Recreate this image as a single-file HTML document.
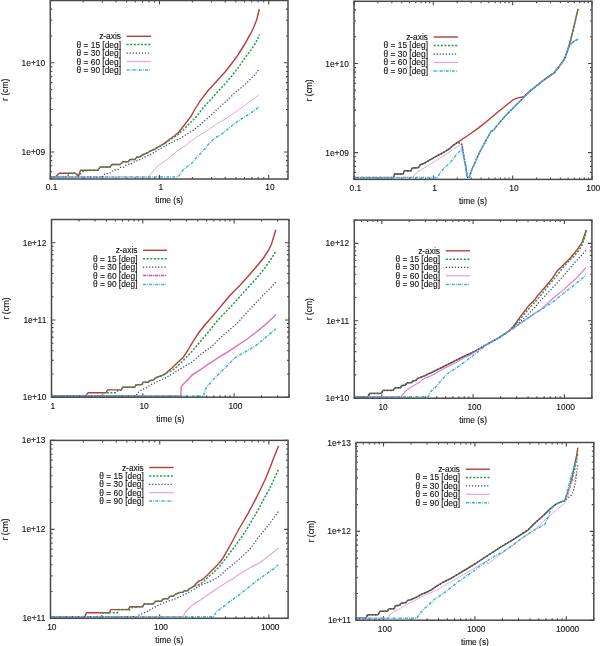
<!DOCTYPE html>
<html><head><meta charset="utf-8"><style>
html,body{margin:0;padding:0;background:#fff;}
body{width:600px;height:646px;overflow:hidden;}
svg{display:block;filter:blur(0.3px);}
text{font-family:"Liberation Sans",sans-serif;font-size:8.4px;fill:#111;stroke:#111;stroke-width:0.12px;}
</style></head><body>
<svg width="600" height="646" viewBox="0 0 600 646">
<rect width="600" height="646" fill="#fff"/>
<path d="M50.3 179v-4.0M50.3 0.5v4.0M83.17 179v-2.0M83.17 0.5v2.0M102.4 179v-2.0M102.4 0.5v2.0M116.04 179v-2.0M116.04 0.5v2.0M126.63 179v-2.0M126.63 0.5v2.0M135.27 179v-2.0M135.27 0.5v2.0M142.58 179v-2.0M142.58 0.5v2.0M148.92 179v-2.0M148.92 0.5v2.0M154.5 179v-2.0M154.5 0.5v2.0M159.5 179v-4.0M159.5 0.5v4.0M192.37 179v-2.0M192.37 0.5v2.0M211.6 179v-2.0M211.6 0.5v2.0M225.24 179v-2.0M225.24 0.5v2.0M235.83 179v-2.0M235.83 0.5v2.0M244.47 179v-2.0M244.47 0.5v2.0M251.78 179v-2.0M251.78 0.5v2.0M258.12 179v-2.0M258.12 0.5v2.0M263.7 179v-2.0M263.7 0.5v2.0M268.7 179v-4.0M268.7 0.5v4.0M50.3 178.85h2.0M288 178.85h-2.0M50.3 171.79h2.0M288 171.79h-2.0M50.3 165.82h2.0M288 165.82h-2.0M50.3 160.64h2.0M288 160.64h-2.0M50.3 156.08h2.0M288 156.08h-2.0M50.3 152h4.0M288 152h-4.0M50.3 125.15h2.0M288 125.15h-2.0M50.3 109.44h2.0M288 109.44h-2.0M50.3 98.3h2.0M288 98.3h-2.0M50.3 89.65h2.0M288 89.65h-2.0M50.3 82.59h2.0M288 82.59h-2.0M50.3 76.62h2.0M288 76.62h-2.0M50.3 71.44h2.0M288 71.44h-2.0M50.3 66.88h2.0M288 66.88h-2.0M50.3 62.8h4.0M288 62.8h-4.0M50.3 35.95h2.0M288 35.95h-2.0M50.3 20.24h2.0M288 20.24h-2.0M50.3 9.1h2.0M288 9.1h-2.0M50.3 0.45h2.0M288 0.45h-2.0" stroke="#4a4a4a" stroke-width="1.1" fill="none"/>
<path d="M50.3,177 55.5,177 59,173.3 75.5,173.3 78.5,176.5 80.5,170.3 98,170.3 100,167 110,167 112,164.5 120,164.5 123,161.8 128,161.8 130,159.5 135,159.5 137,157 140,157 142,155 145,154 148,152.5 150,151.2 154.3,149.5 158.7,146.8 164.1,143.6 169.5,139.3 174.9,135.5 178.7,132.2 182.5,127.3 186.8,121.9 191.2,116 194.4,110 200,101.1 207.7,91 215.5,82.5 223.2,74 225,72 229.7,66 234.3,60 238,54.8 242,48.5 245.5,42.8 248.9,36.7 251.5,32 253.8,27 256.6,20 258.4,13 259.3,9" fill="none" stroke="#b83c3c" stroke-width="1.4" stroke-linejoin="round"/>
<path d="M50.3,177 67.5,177 69,173.3 75.5,173.3 78.5,175 80,174 84,170.5 98,170.3 100,167 110,167 112,164.5 120,164.5 123,161.8 128,161.8 130,159.5 135,159.5 137,157 140,157 142,155 145,154 148,152.5 150,151.2 160.8,145.7 166.3,142.5 171.7,138.7 178.2,134.4 183.6,129.5 189,124.1 195.5,117.6 200,112 203.3,107.5 210,100.3 214.7,95 225,84 231.7,76 238.3,67.5 245.4,57.2 251,49.9 255.9,42.3 259,36 259.4,34.5" fill="none" stroke="#2a9a50" stroke-width="1.5" stroke-dasharray="2.1 1.5" stroke-linejoin="round"/>
<path d="M50.3,177 148.5,177 150,175 155,168.5 160,164.3 165,161 170,157 175,153 180,149 185,146 190,142 196,137.3 201.3,134.3 206.7,131 213.3,126.3 220,121.7 225,119.3 231.7,114.7 238.3,110 245,105.3 251.7,100 258.3,95.3 258.9,94.9" fill="none" stroke="#eaa6d8" stroke-width="1.0" stroke-linejoin="round"/>
<path d="M50.3,177 102,177 105,173.5 109.5,173.5 113,170.5 118,169.5 121,167 124,167 127,164.5 131,164 134,162 140,159.5 144,157.5 148,155.5 150,154.8 156.5,151 161.7,148 168.3,144.2 175,140.7 181.7,137.5 188.3,133.3 194.4,129.5 200,125 203.3,121.7 210,116.3 216.7,109.7 223.3,103.7 228.3,99.3 235,92.7 241.7,87.3 248.3,81.3 255,74.7 259.3,68.8" fill="none" stroke="#3c3c7c" stroke-width="1.25" stroke-dasharray="1.2 1.85" stroke-linejoin="round"/>
<path d="M50.3,177 178,177 183,170 188,166 192,163 196,158 200,154 204.2,149.5 209.5,143 215.5,137.5 222,134 228.3,128.7 235,123.3 241.7,118.7 248.3,114.7 255,110 259.3,106.7" fill="none" stroke="#40b0d8" stroke-width="1.5" stroke-dasharray="3 1.1 0.8 1.2" stroke-linejoin="round"/>
<rect x="50.3" y="0.5" width="237.7" height="178.5" fill="none" stroke="#4a4a4a" stroke-width="1.5"/>
<text x="51.6" y="190.3" text-anchor="middle">0.1</text>
<text x="160.8" y="190.3" text-anchor="middle">1</text>
<text x="270" y="190.3" text-anchor="middle">10</text>
<text x="45.1" y="155" text-anchor="end">1e+09</text>
<text x="45.1" y="65.8" text-anchor="end">1e+10</text>
<text x="169.15" y="203.3" text-anchor="middle">time (s)</text>
<text transform="translate(8.1 89.75) rotate(-90)" text-anchor="middle">r (cm)</text>
<text x="121" y="39.3" text-anchor="end">z-axis</text>
<path d="M126.6 36.3H151" fill="none" stroke="#b83c3c" stroke-width="1.4"/>
<text x="121" y="47.6" text-anchor="end">θ = 15 [deg]</text>
<path d="M126.6 44.6H151" fill="none" stroke="#2a9a50" stroke-width="1.5" stroke-dasharray="2.1 1.5"/>
<text x="121" y="56" text-anchor="end">θ = 30 [deg]</text>
<path d="M126.6 53H151" fill="none" stroke="#3c3c7c" stroke-width="1.25" stroke-dasharray="1.2 1.85"/>
<text x="121" y="64.5" text-anchor="end">θ = 60 [deg]</text>
<path d="M126.6 61.5H151" fill="none" stroke="#eaa6d8" stroke-width="1.3"/>
<text x="121" y="73" text-anchor="end">θ = 90 [deg]</text>
<path d="M126.6 70H151" fill="none" stroke="#40b0d8" stroke-width="1.5" stroke-dasharray="3 1.1 0.8 1.2"/>
<path d="M354 179.4v-4.0M354 1.3v4.0M377.88 179.4v-2.0M377.88 1.3v2.0M391.85 179.4v-2.0M391.85 1.3v2.0M401.76 179.4v-2.0M401.76 1.3v2.0M409.45 179.4v-2.0M409.45 1.3v2.0M415.73 179.4v-2.0M415.73 1.3v2.0M421.04 179.4v-2.0M421.04 1.3v2.0M425.64 179.4v-2.0M425.64 1.3v2.0M429.7 179.4v-2.0M429.7 1.3v2.0M433.33 179.4v-4.0M433.33 1.3v4.0M457.21 179.4v-2.0M457.21 1.3v2.0M471.18 179.4v-2.0M471.18 1.3v2.0M481.09 179.4v-2.0M481.09 1.3v2.0M488.78 179.4v-2.0M488.78 1.3v2.0M495.06 179.4v-2.0M495.06 1.3v2.0M500.37 179.4v-2.0M500.37 1.3v2.0M504.97 179.4v-2.0M504.97 1.3v2.0M509.03 179.4v-2.0M509.03 1.3v2.0M512.66 179.4v-4.0M512.66 1.3v4.0M536.54 179.4v-2.0M536.54 1.3v2.0M550.51 179.4v-2.0M550.51 1.3v2.0M560.42 179.4v-2.0M560.42 1.3v2.0M568.11 179.4v-2.0M568.11 1.3v2.0M574.39 179.4v-2.0M574.39 1.3v2.0M579.7 179.4v-2.0M579.7 1.3v2.0M584.3 179.4v-2.0M584.3 1.3v2.0M588.36 179.4v-2.0M588.36 1.3v2.0M591.99 179.4v-4.0M591.99 1.3v4.0M354 179.42h2.0M592 179.42h-2.0M354 172.37h2.0M592 172.37h-2.0M354 166.4h2.0M592 166.4h-2.0M354 161.23h2.0M592 161.23h-2.0M354 156.68h2.0M592 156.68h-2.0M354 152.6h4.0M592 152.6h-4.0M354 125.78h2.0M592 125.78h-2.0M354 110.09h2.0M592 110.09h-2.0M354 98.96h2.0M592 98.96h-2.0M354 90.32h2.0M592 90.32h-2.0M354 83.27h2.0M592 83.27h-2.0M354 77.3h2.0M592 77.3h-2.0M354 72.13h2.0M592 72.13h-2.0M354 67.58h2.0M592 67.58h-2.0M354 63.5h4.0M592 63.5h-4.0M354 36.68h2.0M592 36.68h-2.0M354 20.99h2.0M592 20.99h-2.0M354 9.86h2.0M592 9.86h-2.0M354 1.22h2.0M592 1.22h-2.0" stroke="#4a4a4a" stroke-width="1.1" fill="none"/>
<path d="M354,177.6 393.5,177.6 394.5,174 403,174 404.5,170.8 411,170.8 412,168.3 418.7,167.5 420,165 424.7,163 428.7,160.7 433.3,158 437.3,155.7 441.3,153.7 445.3,151.3 450,148.3 453,145.5 457.9,142.2 459,141.4 467.1,136 477.9,128.4 488.8,119.8 495.8,113.7 501.7,109 507.5,104.3 513.3,99.7 518,97.9 523.8,96.8 530.8,90.3 536.7,85.7 542.5,81 548.3,76.9 554.2,72.8 559.8,65.7 564.2,59.4 567.4,51.1 570.2,41.8 573,30.6 575.8,18.6 578.1,8.8" fill="none" stroke="#b83c3c" stroke-width="1.4" stroke-linejoin="round"/>
<path d="M354,177.6 393.5,177.6 394.5,174 403,174 404.5,170.8 411,170.8 412,168.3 418.7,167.5 420,165 424.7,163 428.7,160.7 433.3,158 437.3,155.7 441.3,153.7 445.3,151.3 450,148.3 453,145.5 457.9,142.2 461.7,144.1 463.3,153.3 465.5,164.2 467.1,175 467.8,177.6 469.3,177.6 471.4,170.7 474.7,163.1 480.1,151.2 485.5,141.4 490.9,131.7 493.3,130.3 496.3,126.3 499.3,123 505.2,116 511,110.2 518,103.2 523.8,97.3 530.8,90.3 536.7,85.7 542.5,81 548.3,76.9 554.2,72.8 559.8,65.7 564.2,59.4 567.4,51.1 570.2,41.8 573,30.6 575.8,18.6 578.1,8.8" fill="none" stroke="#2a9a50" stroke-width="1.5" stroke-dasharray="2.1 1.5" stroke-linejoin="round"/>
<path d="M354,177.6 413,177.6 414.7,174.3 418,171.7 421.3,169.7 424.7,167.7 428,165.7 432,163 436.7,160.3 441.3,157 446,154.3 450,151.7 455,148 460.6,144.7 462.8,145.8 464.5,160 467.1,175 467.8,177.6 469.3,177.6 471.4,170.7 474.7,163.1 480.1,151.2 485.5,141.4 490.9,131.7 493.3,130.3 496.3,126.3 499.3,123 505.2,116 511,110.2 518,103.2 523.8,97.3 530.8,90.3 536.7,85.7 542.5,81 548.3,76.9 554.2,72.8 559.8,65.7 564.2,59.4 567.4,51.1 569.5,46 571.1,43.6 574.9,40.9 578.1,39" fill="none" stroke="#eaa6d8" stroke-width="1.0" stroke-linejoin="round"/>
<path d="M354,177.6 393.5,177.6 394.5,174 403,174 404.5,170.8 411,170.8 412,168.3 418.7,167.5 420,165 424.7,163 428.7,160.7 433.3,158 437.3,155.7 441.3,153.7 445.3,151.3 450,148.3 453,145.5 457.9,142.2 461.7,144.1 463.3,153.3 465.5,164.2 467.1,175 467.8,177.6 469.3,177.6 471.4,170.7 474.7,163.1 480.1,151.2 485.5,141.4 490.9,131.7 493.3,130.3 496.3,126.3 499.3,123 505.2,116 511,110.2 518,103.2 523.8,97.3 530.8,90.3 536.7,85.7 542.5,81 548.3,76.9 554.2,72.8 559.8,65.7 564.2,59.4 567.4,51.1 569.5,46 571.1,43.6 574.9,40.9 578.1,39" fill="none" stroke="#3c3c7c" stroke-width="1.25" stroke-dasharray="1.2 1.85" stroke-linejoin="round"/>
<path d="M354,177.6 437.5,177.6 440,173 444,168.3 450,163 456.3,154.8 461.5,149.2 462.4,151.5 464.9,164.2 466.5,175 467.6,177.6 469.3,177.6 471.4,170.7 474.7,163.1 480.1,151.2 485.5,141.4 490.9,131.7 493.3,130.3 496.3,126.3 499.3,123 505.2,116 511,110.2 518,103.2 523.8,97.3 530.8,90.3 536.7,85.7 542.5,81 548.3,76.9 554.2,72.8 559.8,65.7 564.2,59.4 567.4,51.1 569.5,46 571.1,43.6 574.9,40.9 578.1,39" fill="none" stroke="#40b0d8" stroke-width="1.5" stroke-dasharray="3 1.1 0.8 1.2" stroke-linejoin="round"/>
<rect x="354" y="1.3" width="238" height="178.1" fill="none" stroke="#4a4a4a" stroke-width="1.5"/>
<text x="355.3" y="190.7" text-anchor="middle">0.1</text>
<text x="434.63" y="190.7" text-anchor="middle">1</text>
<text x="513.96" y="190.7" text-anchor="middle">10</text>
<text x="593.29" y="190.7" text-anchor="middle">100</text>
<text x="348.8" y="155.6" text-anchor="end">1e+09</text>
<text x="348.8" y="66.5" text-anchor="end">1e+10</text>
<text x="473" y="203.7" text-anchor="middle">time (s)</text>
<text transform="translate(311.8 90.35) rotate(-90)" text-anchor="middle">r (cm)</text>
<text x="428" y="40" text-anchor="end">z-axis</text>
<path d="M433.6 37H458" fill="none" stroke="#b83c3c" stroke-width="1.4"/>
<text x="428" y="48.4" text-anchor="end">θ = 15 [deg]</text>
<path d="M433.6 45.4H458" fill="none" stroke="#2a9a50" stroke-width="1.5" stroke-dasharray="2.1 1.5"/>
<text x="428" y="57" text-anchor="end">θ = 30 [deg]</text>
<path d="M433.6 54H458" fill="none" stroke="#3c3c7c" stroke-width="1.25" stroke-dasharray="1.2 1.85"/>
<text x="428" y="65.4" text-anchor="end">θ = 60 [deg]</text>
<path d="M433.6 62.4H458" fill="none" stroke="#eaa6d8" stroke-width="1.3"/>
<text x="428" y="74" text-anchor="end">θ = 90 [deg]</text>
<path d="M433.6 71H458" fill="none" stroke="#40b0d8" stroke-width="1.5" stroke-dasharray="3 1.1 0.8 1.2"/>
<path d="M51.5 397.2v-4.0M51.5 219.5v4.0M78.98 397.2v-2.0M78.98 219.5v2.0M95.06 397.2v-2.0M95.06 219.5v2.0M106.47 397.2v-2.0M106.47 219.5v2.0M115.32 397.2v-2.0M115.32 219.5v2.0M122.55 397.2v-2.0M122.55 219.5v2.0M128.66 397.2v-2.0M128.66 219.5v2.0M133.95 397.2v-2.0M133.95 219.5v2.0M138.62 397.2v-2.0M138.62 219.5v2.0M142.8 397.2v-4.0M142.8 219.5v4.0M170.28 397.2v-2.0M170.28 219.5v2.0M186.36 397.2v-2.0M186.36 219.5v2.0M197.77 397.2v-2.0M197.77 219.5v2.0M206.62 397.2v-2.0M206.62 219.5v2.0M213.85 397.2v-2.0M213.85 219.5v2.0M219.96 397.2v-2.0M219.96 219.5v2.0M225.25 397.2v-2.0M225.25 219.5v2.0M229.92 397.2v-2.0M229.92 219.5v2.0M234.1 397.2v-4.0M234.1 219.5v4.0M261.58 397.2v-2.0M261.58 219.5v2.0M277.66 397.2v-2.0M277.66 219.5v2.0M289.07 397.2v-2.0M289.07 219.5v2.0M51.5 397.2h4.0M289 397.2h-4.0M51.5 373.95h2.0M289 373.95h-2.0M51.5 360.34h2.0M289 360.34h-2.0M51.5 350.69h2.0M289 350.69h-2.0M51.5 343.2h2.0M289 343.2h-2.0M51.5 337.09h2.0M289 337.09h-2.0M51.5 331.92h2.0M289 331.92h-2.0M51.5 327.44h2.0M289 327.44h-2.0M51.5 323.48h2.0M289 323.48h-2.0M51.5 319.95h4.0M289 319.95h-4.0M51.5 296.7h2.0M289 296.7h-2.0M51.5 283.09h2.0M289 283.09h-2.0M51.5 273.44h2.0M289 273.44h-2.0M51.5 265.95h2.0M289 265.95h-2.0M51.5 259.84h2.0M289 259.84h-2.0M51.5 254.67h2.0M289 254.67h-2.0M51.5 250.19h2.0M289 250.19h-2.0M51.5 246.23h2.0M289 246.23h-2.0M51.5 242.7h4.0M289 242.7h-4.0M51.5 219.45h2.0M289 219.45h-2.0" stroke="#4a4a4a" stroke-width="1.1" fill="none"/>
<path d="M51.5,395.9 85.8,395.9 88.2,392.7 106,392.7 107.4,389.9 121.4,389.9 122.6,387.2 134.8,387.2 136,384.8 142,384.5 143,382.3 148.3,382.3 149.3,380.7 153.7,380 155,378.3 157.7,377 161.7,375.7 165.7,373.7 168.3,371 171.7,368.3 175,365 179,361.2 183.5,356.9 187.7,350.5 193,341.6 198.3,333.3 205,324.7 211.7,317.3 218.3,309.4 225,301.2 230,295.3 240,285.2 247.7,276.7 255.5,267.8 263.2,258.5 268.6,250 271.5,244 273.5,237.5 275.8,229.8" fill="none" stroke="#b83c3c" stroke-width="1.4" stroke-linejoin="round"/>
<path d="M51.5,395.9 102.2,395.9 103.3,392.7 116.2,392.7 118.5,389.9 121.4,389.9 122.6,387.2 134.8,387.2 136,384.8 142,384.5 143,382.3 148.3,382.3 149.3,380.7 153.7,380 155,378.3 157.7,377 161.7,375.7 165.7,373.7 167,372.6 171.7,370.6 175,368.5 183.5,360.3 192,351.2 198.3,344 204.2,337 208.8,331.5 218,320 226.7,310.7 233.3,304 240,296.4 247.7,287.9 255.5,279.4 263.2,270.1 271,259.3 275.6,251.5" fill="none" stroke="#2a9a50" stroke-width="1.5" stroke-dasharray="2.1 1.5" stroke-linejoin="round"/>
<path d="M51.5,395.9 180.8,395.9 181.2,386.7 184.3,383.2 187.8,379.9 192,375 200.5,369.7 209,363.7 215,359.9 218.6,357.5 227.9,351.9 237.2,345.7 246.5,339.5 255.8,332.5 265.1,324.8 275.9,314.7" fill="none" stroke="#dc74bc" stroke-width="1.5" stroke-linejoin="round"/>
<path d="M51.5,395.9 136,395.9 137.7,393 141.7,389.7 146.3,387.7 151.7,384.3 157,381.7 161.7,379.7 167,377 171.7,374.3 175,372.2 183.5,367.1 192,362 200.5,354.4 209,348.4 212.4,345.9 218.6,339.3 227.9,331.3 237.2,323.2 246.5,313 256.3,302.3 263.2,295.3 270.2,288.3 275.8,282.1" fill="none" stroke="#3c3c7c" stroke-width="1.25" stroke-dasharray="1.2 1.85" stroke-linejoin="round"/>
<path d="M51.5,395.9 203.6,395.9 205.3,389.5 207.7,386 212.4,380.5 218.6,374.3 226.3,366.6 235.6,357.3 246.5,351.1 255.8,345.7 265.1,338 275.9,328.7" fill="none" stroke="#40b0d8" stroke-width="1.5" stroke-dasharray="3 1.1 0.8 1.2" stroke-linejoin="round"/>
<rect x="51.5" y="219.5" width="237.5" height="177.7" fill="none" stroke="#4a4a4a" stroke-width="1.5"/>
<text x="52.8" y="408.5" text-anchor="middle">1</text>
<text x="144.1" y="408.5" text-anchor="middle">10</text>
<text x="235.4" y="408.5" text-anchor="middle">100</text>
<text x="46.3" y="400.2" text-anchor="end">1e+10</text>
<text x="46.3" y="322.95" text-anchor="end">1e+11</text>
<text x="46.3" y="245.7" text-anchor="end">1e+12</text>
<text x="170.25" y="421.5" text-anchor="middle">time (s)</text>
<text transform="translate(9.3 308.35) rotate(-90)" text-anchor="middle">r (cm)</text>
<text x="137.5" y="253.3" text-anchor="end">z-axis</text>
<path d="M143 250.3H167" fill="none" stroke="#b83c3c" stroke-width="1.4"/>
<text x="137.5" y="261.7" text-anchor="end">θ = 15 [deg]</text>
<path d="M143 258.7H167" fill="none" stroke="#2a9a50" stroke-width="1.5" stroke-dasharray="2.1 1.5"/>
<text x="137.5" y="270.2" text-anchor="end">θ = 30 [deg]</text>
<path d="M143 267.2H167" fill="none" stroke="#3c3c7c" stroke-width="1.25" stroke-dasharray="1.2 1.85"/>
<text x="137.5" y="278.6" text-anchor="end">θ = 60 [deg]</text>
<path d="M143 275.6H167" fill="none" stroke="#c850b4" stroke-width="1.5" stroke-dasharray="3.5 0.7 1 0.7"/>
<text x="137.5" y="287.4" text-anchor="end">θ = 90 [deg]</text>
<path d="M143 284.4H167" fill="none" stroke="#40b0d8" stroke-width="1.5" stroke-dasharray="3 1.1 0.8 1.2"/>
<path d="M354.3 398.2v-2.0M354.3 220.1v2.0M361.53 398.2v-2.0M361.53 220.1v2.0M367.64 398.2v-2.0M367.64 220.1v2.0M372.94 398.2v-2.0M372.94 220.1v2.0M377.61 398.2v-2.0M377.61 220.1v2.0M381.78 398.2v-4.0M381.78 220.1v4.0M409.27 398.2v-2.0M409.27 220.1v2.0M425.35 398.2v-2.0M425.35 220.1v2.0M436.75 398.2v-2.0M436.75 220.1v2.0M445.6 398.2v-2.0M445.6 220.1v2.0M452.83 398.2v-2.0M452.83 220.1v2.0M458.94 398.2v-2.0M458.94 220.1v2.0M464.24 398.2v-2.0M464.24 220.1v2.0M468.91 398.2v-2.0M468.91 220.1v2.0M473.08 398.2v-4.0M473.08 220.1v4.0M500.57 398.2v-2.0M500.57 220.1v2.0M516.65 398.2v-2.0M516.65 220.1v2.0M528.05 398.2v-2.0M528.05 220.1v2.0M536.9 398.2v-2.0M536.9 220.1v2.0M544.13 398.2v-2.0M544.13 220.1v2.0M550.24 398.2v-2.0M550.24 220.1v2.0M555.54 398.2v-2.0M555.54 220.1v2.0M560.21 398.2v-2.0M560.21 220.1v2.0M564.38 398.2v-4.0M564.38 220.1v4.0M591.87 398.2v-2.0M591.87 220.1v2.0M354.3 398.2h4.0M591.9 398.2h-4.0M354.3 374.9h2.0M591.9 374.9h-2.0M354.3 361.27h2.0M591.9 361.27h-2.0M354.3 351.6h2.0M591.9 351.6h-2.0M354.3 344.1h2.0M591.9 344.1h-2.0M354.3 337.97h2.0M591.9 337.97h-2.0M354.3 332.79h2.0M591.9 332.79h-2.0M354.3 328.3h2.0M591.9 328.3h-2.0M354.3 324.34h2.0M591.9 324.34h-2.0M354.3 320.8h4.0M591.9 320.8h-4.0M354.3 297.5h2.0M591.9 297.5h-2.0M354.3 283.87h2.0M591.9 283.87h-2.0M354.3 274.2h2.0M591.9 274.2h-2.0M354.3 266.7h2.0M591.9 266.7h-2.0M354.3 260.57h2.0M591.9 260.57h-2.0M354.3 255.39h2.0M591.9 255.39h-2.0M354.3 250.9h2.0M591.9 250.9h-2.0M354.3 246.94h2.0M591.9 246.94h-2.0M354.3 243.4h4.0M591.9 243.4h-4.0M354.3 220.1h2.0M591.9 220.1h-2.0" stroke="#4a4a4a" stroke-width="1.1" fill="none"/>
<path d="M354.3,396.8 368,396.8 369.5,393.4 381.4,393.4 383,390.4 393.1,390.4 395,387.8 400.6,387.8 401.3,385.7 405.5,385 406.8,382.9 411.7,382.5 413.1,380.8 415.9,380.4 417.3,378.7 420.8,377.3 424.3,375.9 428.4,373.8 431.9,372.4 437,369.8 443.9,366.4 450.9,362.9 457.9,359.4 464.8,355.9 470,353.7 477,350.2 483.9,346 490.9,342.2 497.9,338.3 504.8,333.8 510,330.3 513,327 520.5,316.4 528.2,306.3 534.4,300.1 537.5,295.8 540,293.1 546.2,285.7 552.4,278.2 557.3,270.8 564.8,263.4 571,257.2 577.2,249.7 582.1,242.3 584.6,234.9 586.1,229.9" fill="none" stroke="#b83c3c" stroke-width="1.4" stroke-linejoin="round"/>
<path d="M354.3,396.8 368,396.8 369.5,393.4 381.4,393.4 383,390.4 393.1,390.4 395,387.8 400.6,387.8 401.3,385.7 405.5,385 406.8,382.9 411.7,382.5 413.1,380.8 415.9,380.4 417.3,378.7 420.8,377.3 424.3,375.9 428.4,373.8 431.9,372.4 437,369.8 443.9,366.4 450.9,362.9 457.9,359.4 464.8,355.9 470,353.7 477,350.2 483.9,346 490.9,342.2 497.9,338.3 504.8,333.8 510,330.3 513,327 520.5,318.7 528.2,309.4 536,300.9 541.4,294.7 548.3,285.8 556.7,275.8 565,265 575,255 579,250 582.1,244.8 585.2,236.1 586.5,229.9" fill="none" stroke="#2a9a50" stroke-width="1.5" stroke-dasharray="2.1 1.5" stroke-linejoin="round"/>
<path d="M354.3,396.8 401.8,396.8 402,395.4 405.5,391.2 408.9,388.4 412.4,386.4 415.9,384.3 419.4,382.2 422.9,379.4 426.4,377.3 430,376.3 437,372.6 443.9,368.4 450.9,365 457.9,361.5 464.8,357.3 470,355 477,350.6 483.9,346.3 490.9,342.2 497.9,338.3 504.8,333.8 510,330.3 512.7,328.8 520.5,323.3 528.2,317.9 536,312.5 539.8,310.5 546.7,304.2 551.2,300 558.6,293.8 564.8,288.6 571,283 577.2,277.2 582.1,272 585.8,267.7" fill="none" stroke="#e280cc" stroke-width="1.2" stroke-linejoin="round"/>
<path d="M354.3,396.8 368,396.8 369.5,393.4 381.4,393.4 383,390.4 393.1,390.4 395,387.8 400.6,387.8 401.3,385.7 405.5,385 406.8,382.9 411.7,382.5 413.1,380.8 415.9,380.4 417.3,378.7 420.8,377.3 424.3,375.9 428.4,373.8 431.9,372.4 437,369.8 443.9,366.4 450.9,362.9 457.9,359.4 464.8,355.9 470,353.7 477,350.2 483.9,346 490.9,342.2 497.9,338.3 504.8,333.8 510,330.3 513,327 520.5,321.5 528.2,314.1 536,306.3 540,301 548.3,292.5 556.7,283.3 565,274.2 573.3,264.2 581.7,255 586.5,249.7" fill="none" stroke="#3c3c7c" stroke-width="1.25" stroke-dasharray="1.2 1.85" stroke-linejoin="round"/>
<path d="M354.3,396.8 428.4,396.8 429.8,392.6 433.3,389.1 435,387.8 439.8,382 442.5,378.9 447.4,374 454.4,369.1 461.4,364.3 466,361 471.4,356.8 477,352.6 483.9,347 485.3,345.7 490.9,342.2 497.9,338.3 504.8,333.8 510,330.3 512.7,328.8 520.5,323.3 528.2,317.9 536,312.5 541.4,309.4 544.9,307.1 550,304 554.9,300.3 562,294.6 570,288.2 578,281.8 586.1,275.1" fill="none" stroke="#40b0d8" stroke-width="1.5" stroke-dasharray="3 1.1 0.8 1.2" stroke-linejoin="round"/>
<rect x="354.3" y="220.1" width="237.6" height="178.1" fill="none" stroke="#4a4a4a" stroke-width="1.5"/>
<text x="383.08" y="409.5" text-anchor="middle">10</text>
<text x="474.38" y="409.5" text-anchor="middle">100</text>
<text x="565.68" y="409.5" text-anchor="middle">1000</text>
<text x="349.1" y="401.2" text-anchor="end">1e+10</text>
<text x="349.1" y="323.8" text-anchor="end">1e+11</text>
<text x="349.1" y="246.4" text-anchor="end">1e+12</text>
<text x="473.1" y="422.5" text-anchor="middle">time (s)</text>
<text transform="translate(312.1 309.15) rotate(-90)" text-anchor="middle">r (cm)</text>
<text x="440" y="253.8" text-anchor="end">z-axis</text>
<path d="M445.8 250.8H470" fill="none" stroke="#b83c3c" stroke-width="1.4"/>
<text x="440" y="262.2" text-anchor="end">θ = 15 [deg]</text>
<path d="M445.8 259.2H470" fill="none" stroke="#2a9a50" stroke-width="1.5" stroke-dasharray="2.1 1.5"/>
<text x="440" y="270.4" text-anchor="end">θ = 30 [deg]</text>
<path d="M445.8 267.4H470" fill="none" stroke="#3c3c7c" stroke-width="1.25" stroke-dasharray="1.2 1.85"/>
<text x="440" y="278.8" text-anchor="end">θ = 60 [deg]</text>
<path d="M445.8 275.8H470" fill="none" stroke="#eaa6d8" stroke-width="1.3"/>
<text x="440" y="287.4" text-anchor="end">θ = 90 [deg]</text>
<path d="M445.8 284.4H470" fill="none" stroke="#40b0d8" stroke-width="1.5" stroke-dasharray="3 1.1 0.8 1.2"/>
<path d="M50.5 618.3v-4.0M50.5 440.4v4.0M83.37 618.3v-2.0M83.37 440.4v2.0M102.6 618.3v-2.0M102.6 440.4v2.0M116.24 618.3v-2.0M116.24 440.4v2.0M126.83 618.3v-2.0M126.83 440.4v2.0M135.47 618.3v-2.0M135.47 440.4v2.0M142.78 618.3v-2.0M142.78 440.4v2.0M149.12 618.3v-2.0M149.12 440.4v2.0M154.7 618.3v-2.0M154.7 440.4v2.0M159.7 618.3v-4.0M159.7 440.4v4.0M192.57 618.3v-2.0M192.57 440.4v2.0M211.8 618.3v-2.0M211.8 440.4v2.0M225.44 618.3v-2.0M225.44 440.4v2.0M236.03 618.3v-2.0M236.03 440.4v2.0M244.67 618.3v-2.0M244.67 440.4v2.0M251.98 618.3v-2.0M251.98 440.4v2.0M258.32 618.3v-2.0M258.32 440.4v2.0M263.9 618.3v-2.0M263.9 440.4v2.0M268.9 618.3v-4.0M268.9 440.4v4.0M50.5 618.3h4.0M288.1 618.3h-4.0M50.5 591.52h2.0M288.1 591.52h-2.0M50.5 575.86h2.0M288.1 575.86h-2.0M50.5 564.75h2.0M288.1 564.75h-2.0M50.5 556.13h2.0M288.1 556.13h-2.0M50.5 549.08h2.0M288.1 549.08h-2.0M50.5 543.13h2.0M288.1 543.13h-2.0M50.5 537.97h2.0M288.1 537.97h-2.0M50.5 533.42h2.0M288.1 533.42h-2.0M50.5 529.35h4.0M288.1 529.35h-4.0M50.5 502.57h2.0M288.1 502.57h-2.0M50.5 486.91h2.0M288.1 486.91h-2.0M50.5 475.8h2.0M288.1 475.8h-2.0M50.5 467.18h2.0M288.1 467.18h-2.0M50.5 460.13h2.0M288.1 460.13h-2.0M50.5 454.18h2.0M288.1 454.18h-2.0M50.5 449.02h2.0M288.1 449.02h-2.0M50.5 444.47h2.0M288.1 444.47h-2.0M50.5 440.4h4.0M288.1 440.4h-4.0" stroke="#4a4a4a" stroke-width="1.1" fill="none"/>
<path d="M50.5,616.7 84.7,616.7 86.5,612.7 109.5,612.7 110.8,609.6 128,609.6 130,606.7 142.7,606.7 144,604 153.3,604 155.3,601.3 161.3,601.3 163.3,598.7 168,598.7 170,596.3 173.3,596.3 176,594 180,592.4 182.8,592.4 184.2,590.7 187.7,590.7 189.1,588.9 191.1,587.9 193.9,586.1 196.7,583 199.5,580.6 200.9,580.6 204.4,577.8 207.9,574.6 210.7,571.5 213.4,569.1 216.9,565.6 220,562 223.1,557.9 226.2,552.4 230.1,545.5 233.9,538.5 238.6,529.5 247.7,514.1 255.5,499.3 260.4,489.5 265.5,478.7 269.3,469.4 273.2,459.3 276.3,451.6 278.6,445.8" fill="none" stroke="#b83c3c" stroke-width="1.4" stroke-linejoin="round"/>
<path d="M50.5,616.7 101.3,616.7 103,612.7 117.3,612.7 118.7,609.6 128,609.6 129.3,610 132,607.5 142.7,606.7 144,604 153.3,604 155.3,601.3 161.3,601.3 163.3,598.7 168,598.7 170,596.3 173.3,596.3 176,594 180,592.4 182.8,592.4 184.2,590.7 187.7,590.7 189.1,588.9 191.1,587.9 193.9,586.5 200.9,583.7 207.9,577.4 213.4,572.5 220,566 224.6,559.8 229.3,553.5 233.9,547.8 239.3,540.1 243.2,534.6 246.3,530 251.6,521 259.3,507.9 264.8,497 269.3,489.5 273.2,481 276.3,474.1 278.6,469" fill="none" stroke="#2a9a50" stroke-width="1.5" stroke-dasharray="2.1 1.5" stroke-linejoin="round"/>
<path d="M50.5,616.7 183.3,616.7 185.3,612 189.3,608 193.2,604.6 200.9,599.7 207.9,594.8 214.8,590 220,586.5 231.6,579.5 243.2,571.8 251,567.2 260,562.5 270,555 278.3,548.3" fill="none" stroke="#eaa6d8" stroke-width="1.3" stroke-linejoin="round"/>
<path d="M50.5,616.7 137,616.7 140,614.5 146.7,611.8 153.3,607.8 160,604.5 166.7,601.8 173.3,599.5 180,596.8 187,593.4 193.9,589.3 200.9,585.1 207.9,582.3 214.8,579.2 220,575.8 227.7,568.7 235.5,562.5 243.2,555.5 251,547.8 258.7,537 264.8,529.5 271,521.8 278.3,511.5" fill="none" stroke="#3c3c7c" stroke-width="1.25" stroke-dasharray="1.2 1.85" stroke-linejoin="round"/>
<path d="M50.5,616.7 213.3,616.7 216.7,611.7 223.3,606.7 231.7,600 240,594.2 248.3,587.5 256.7,580.8 265,575 273.3,569.2 278.3,564.7" fill="none" stroke="#40b0d8" stroke-width="1.5" stroke-dasharray="3 1.1 0.8 1.2" stroke-linejoin="round"/>
<rect x="50.5" y="440.4" width="237.6" height="177.9" fill="none" stroke="#4a4a4a" stroke-width="1.5"/>
<text x="51.8" y="629.6" text-anchor="middle">10</text>
<text x="161" y="629.6" text-anchor="middle">100</text>
<text x="270.2" y="629.6" text-anchor="middle">1000</text>
<text x="45.3" y="621.3" text-anchor="end">1e+11</text>
<text x="45.3" y="532.35" text-anchor="end">1e+12</text>
<text x="45.3" y="443.4" text-anchor="end">1e+13</text>
<text x="169.3" y="642.6" text-anchor="middle">time (s)</text>
<text transform="translate(8.3 529.35) rotate(-90)" text-anchor="middle">r (cm)</text>
<text x="143.8" y="470.5" text-anchor="end">z-axis</text>
<path d="M149.2 467.5H173.7" fill="none" stroke="#b83c3c" stroke-width="1.4"/>
<text x="143.8" y="479" text-anchor="end">θ = 15 [deg]</text>
<path d="M149.2 476H173.7" fill="none" stroke="#2a9a50" stroke-width="1.5" stroke-dasharray="2.1 1.5"/>
<text x="143.8" y="487.3" text-anchor="end">θ = 30 [deg]</text>
<path d="M149.2 484.3H173.7" fill="none" stroke="#3c3c7c" stroke-width="1.25" stroke-dasharray="1.2 1.85"/>
<text x="143.8" y="495.6" text-anchor="end">θ = 60 [deg]</text>
<path d="M149.2 492.6H173.7" fill="none" stroke="#eaa6d8" stroke-width="1.3"/>
<text x="143.8" y="503.9" text-anchor="end">θ = 90 [deg]</text>
<path d="M149.2 500.9H173.7" fill="none" stroke="#40b0d8" stroke-width="1.5" stroke-dasharray="3 1.1 0.8 1.2"/>
<path d="M356 620.2v-2.0M356 442.5v2.0M363.24 620.2v-2.0M363.24 442.5v2.0M369.36 620.2v-2.0M369.36 442.5v2.0M374.66 620.2v-2.0M374.66 442.5v2.0M379.33 620.2v-2.0M379.33 442.5v2.0M383.51 620.2v-4.0M383.51 442.5v4.0M411.03 620.2v-2.0M411.03 442.5v2.0M427.12 620.2v-2.0M427.12 442.5v2.0M438.54 620.2v-2.0M438.54 442.5v2.0M447.4 620.2v-2.0M447.4 442.5v2.0M454.64 620.2v-2.0M454.64 442.5v2.0M460.76 620.2v-2.0M460.76 442.5v2.0M466.06 620.2v-2.0M466.06 442.5v2.0M470.73 620.2v-2.0M470.73 442.5v2.0M474.91 620.2v-4.0M474.91 442.5v4.0M502.43 620.2v-2.0M502.43 442.5v2.0M518.52 620.2v-2.0M518.52 442.5v2.0M529.94 620.2v-2.0M529.94 442.5v2.0M538.8 620.2v-2.0M538.8 442.5v2.0M546.04 620.2v-2.0M546.04 442.5v2.0M552.16 620.2v-2.0M552.16 442.5v2.0M557.46 620.2v-2.0M557.46 442.5v2.0M562.13 620.2v-2.0M562.13 442.5v2.0M566.31 620.2v-4.0M566.31 442.5v4.0M593.83 620.2v-2.0M593.83 442.5v2.0M356 620.2h4.0M593.8 620.2h-4.0M356 593.45h2.0M593.8 593.45h-2.0M356 577.81h2.0M593.8 577.81h-2.0M356 566.71h2.0M593.8 566.71h-2.0M356 558.1h2.0M593.8 558.1h-2.0M356 551.06h2.0M593.8 551.06h-2.0M356 545.11h2.0M593.8 545.11h-2.0M356 539.96h2.0M593.8 539.96h-2.0M356 535.42h2.0M593.8 535.42h-2.0M356 531.35h4.0M593.8 531.35h-4.0M356 504.6h2.0M593.8 504.6h-2.0M356 488.96h2.0M593.8 488.96h-2.0M356 477.86h2.0M593.8 477.86h-2.0M356 469.25h2.0M593.8 469.25h-2.0M356 462.21h2.0M593.8 462.21h-2.0M356 456.26h2.0M593.8 456.26h-2.0M356 451.11h2.0M593.8 451.11h-2.0M356 446.57h2.0M593.8 446.57h-2.0M356 442.5h4.0M593.8 442.5h-4.0" stroke="#4a4a4a" stroke-width="1.1" fill="none"/>
<path d="M356,618.3 366,618.3 367.5,614.7 378,614.7 380,611.3 387.3,611.3 389,608.7 394,608.7 395.5,605.7 399.6,605.3 401.2,603.3 405.9,602.5 407.4,600.6 411.3,599.5 416.7,597.1 421.4,594.4 426,592.5 430.7,590.2 435.3,587 442.7,582.5 450.5,578.6 458.2,574 466,569.3 475,563.9 480,560.5 490,554 500,547.5 505,544.5 512.7,539.8 520.5,534.8 528.2,529.8 536,522 544.2,514.8 549.2,509.8 555.3,504.6 559.7,502.4 565,500.5 569.1,488.8 572.3,475.8 575,462.8 576.7,455.2 577.8,447.6" fill="none" stroke="#b83c3c" stroke-width="1.4" stroke-linejoin="round"/>
<path d="M356,618.3 366,618.3 367.5,614.7 378,614.7 380,611.3 387.3,611.3 389,608.7 394,608.7 395.5,605.7 399.6,605.3 401.2,603.3 405.9,602.5 407.4,600.6 411.3,599.5 416.7,597.1 421.4,594.4 426,592.5 430.7,590.2 435.3,587 442.7,582.5 450.5,578.6 458.2,574 466,569.3 475,563.9 480,560.5 490,554 500,547.5 505,544.5 512.7,539.8 520.5,534.8 528.2,529.8 536,522 544.2,514.8 549.2,509.8 555.3,504.6 559.7,502.4 565,500.5 568,494.2 571.3,482.3 574.5,470.3 576.7,459.5 577.8,453" fill="none" stroke="#2a9a50" stroke-width="1.5" stroke-dasharray="2.1 1.5" stroke-linejoin="round"/>
<path d="M356,618.3 388,618.3 390,614.7 394.7,611.2 400,608.5 406.7,604.5 413.3,601.2 420,597.8 426.7,594.2 435.3,590.5 438.1,589.5 442.7,586.4 450.5,581.7 458.2,577.9 466,573.2 475,567.8 480,564.5 487,561 488,564 495,558.5 505,551 512.7,545.2 520.5,539.1 528.2,534 536,529 538,526.6 544.2,520.4 550.4,515.4 556.6,509.8 562.8,504.9 564.6,503.3 566.5,498 568.3,493.7 570.8,483.9 574.8,478.5 577.2,472.5" fill="none" stroke="#eaa6d8" stroke-width="1.0" stroke-linejoin="round"/>
<path d="M356,618.3 366,618.3 367.5,614.7 378,614.7 380,611.3 387.3,611.3 389,608.7 394,608.7 395.5,605.7 399.6,605.3 401.2,603.3 405.9,602.5 407.4,600.6 411.3,599.5 416.7,597.1 421.4,594.4 426,592.5 430.7,590.2 435.3,587 442.7,582.5 450.5,578.6 458.2,574 466,569.3 475,563.9 480,560.5 490,554 500,547.5 505,544.5 512.7,539.8 520.5,534.8 528.2,529.8 536,522 544.2,514.8 549.2,509.8 555.3,504.6 559.7,502.4 565,500.5 571.3,495.3 574,488.8 575.6,481.2 576.7,472.5 577.8,463.8" fill="none" stroke="#3c3c7c" stroke-width="1.25" stroke-dasharray="1.2 1.85" stroke-linejoin="round"/>
<path d="M356,618.3 416.6,618.3 419,614.9 421.8,611.1 426,607.2 430.7,602.6 435.3,598.7 442.7,594.1 450.5,587.9 458.2,581.7 466,576.3 475,570.1 480,566 490,559 495,556 505,550.7 512.7,545.2 520.5,539.1 528.2,534 536,529 539.9,527.2 545.4,523.5 547.9,517.9 549.8,512.3 550.4,509.8 555.3,504.3 559.7,502.4 564.6,500.2 568,488.8 571.3,475.8 574.5,466 577.2,460.6" fill="none" stroke="#40b0d8" stroke-width="1.5" stroke-dasharray="3 1.1 0.8 1.2" stroke-linejoin="round"/>
<rect x="356" y="442.5" width="237.8" height="177.7" fill="none" stroke="#4a4a4a" stroke-width="1.5"/>
<text x="384.81" y="631.5" text-anchor="middle">100</text>
<text x="476.21" y="631.5" text-anchor="middle">1000</text>
<text x="567.61" y="631.5" text-anchor="middle">10000</text>
<text x="350.8" y="623.2" text-anchor="end">1e+11</text>
<text x="350.8" y="534.35" text-anchor="end">1e+12</text>
<text x="350.8" y="445.5" text-anchor="end">1e+13</text>
<text x="474.9" y="644.5" text-anchor="middle">time (s)</text>
<text transform="translate(313.8 531.35) rotate(-90)" text-anchor="middle">r (cm)</text>
<text x="460" y="472.2" text-anchor="end">z-axis</text>
<path d="M465.8 469.2H490" fill="none" stroke="#b83c3c" stroke-width="1.4"/>
<text x="460" y="480.4" text-anchor="end">θ = 15 [deg]</text>
<path d="M465.8 477.4H490" fill="none" stroke="#2a9a50" stroke-width="1.5" stroke-dasharray="2.1 1.5"/>
<text x="460" y="488.8" text-anchor="end">θ = 30 [deg]</text>
<path d="M465.8 485.8H490" fill="none" stroke="#3c3c7c" stroke-width="1.25" stroke-dasharray="1.2 1.85"/>
<text x="460" y="497.3" text-anchor="end">θ = 60 [deg]</text>
<path d="M465.8 494.3H490" fill="none" stroke="#eaa6d8" stroke-width="1.3"/>
<text x="460" y="505.8" text-anchor="end">θ = 90 [deg]</text>
<path d="M465.8 502.8H490" fill="none" stroke="#40b0d8" stroke-width="1.5" stroke-dasharray="3 1.1 0.8 1.2"/>
</svg>
</body></html>
